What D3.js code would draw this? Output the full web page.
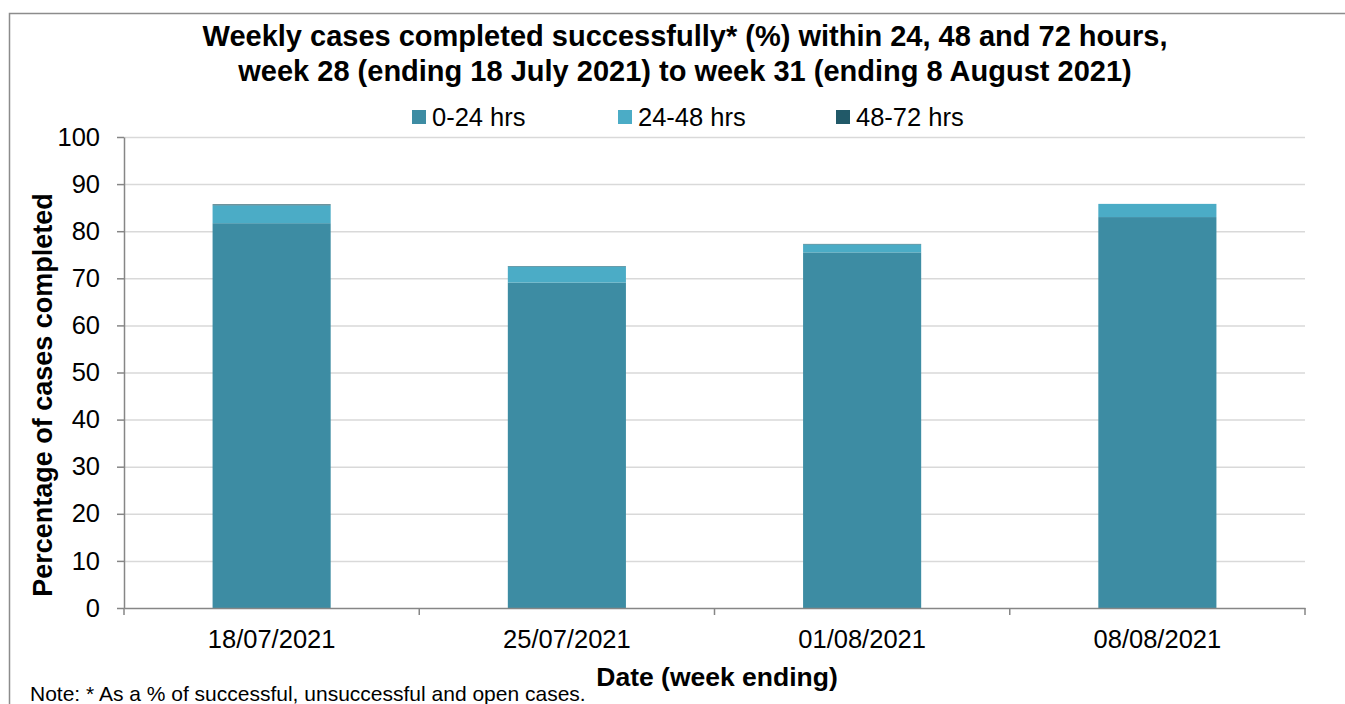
<!DOCTYPE html>
<html>
<head>
<meta charset="utf-8">
<script src="https://d3js.org/d3.v7.min.js"></script>
<style>
  body { margin: 0; background: #fff; }
  svg { font-family: "Liberation Sans", Arial, sans-serif; }
</style>
</head>
<body>
<div id="chart"></div>
<script>
// data
const weeks = ['18/07/2021', '25/07/2021', '01/08/2021', '08/08/2021'];
const seriesNames = ['0-24 hrs', '24-48 hrs', '48-72 hrs'];
const hrs0to24 = [81.7, 69.1, 75.5, 83.0];
const hrs24to48 = [3.8, 3.4, 1.7, 2.8];
const hrs48to72 = [0.2, 0.1, 0.1, 0.0];
const yTicks = [0, 10, 20, 30, 40, 50, 60, 70, 80, 90, 100];
const colors = ['#3d8ca3', '#4bacc6', '#215968'];

const W = 1345, H = 704;
let margin = { top: 137, left: 124, right: 40, bottom: 96 };
let width = W - margin.left - margin.right;
let height = H - margin.top - margin.bottom;

let svg = d3.select('#chart').append('svg')
    .attr('width', W)
    .attr('height', H);

// outer frame
svg.append('path')
    .attr('d', `M9.5,${H}V13.5H${W}`)
    .attr('fill', 'none')
    .attr('stroke', '#8c8c8c')
    .attr('stroke-width', 1.5);

let g = svg.append('g')
    .attr('transform', `translate(${margin.left},${margin.top})`);

const xScale = d3.scaleBand()
    .domain(weeks)
    .range([0, width])
    .paddingInner(0)
    .paddingOuter(0);

const yScale = d3.scaleLinear()
    .domain([0, 100])
    .range([height, 0]);

// gridlines
g.selectAll('.grid')
    .data(yTicks.filter(d => d > 0))
    .enter()
    .append('line')
    .attr('x1', 0)
    .attr('x2', width)
    .attr('y1', d => yScale(d) + 0.5)
    .attr('y2', d => yScale(d) + 0.5)
    .attr('stroke', '#d9d9d9')
    .attr('stroke-width', 1.5);

// stack
const table = weeks.map((w, i) => ({
    week: w,
    '0-24 hrs': hrs0to24[i],
    '24-48 hrs': hrs24to48[i],
    '48-72 hrs': hrs48to72[i]
}));
const stacked = d3.stack().keys(seriesNames)(table);
const barW = xScale.bandwidth() * 0.4;

g.selectAll('.layer')
    .data(stacked)
    .enter()
    .append('g')
    .attr('fill', (d, i) => colors[i])
    .selectAll('rect')
    .data(d => d)
    .enter()
    .append('rect')
    .attr('x', d => xScale(d.data.week) + (xScale.bandwidth() - barW) / 2)
    .attr('width', barW)
    .attr('y', d => yScale(d[1]))
    .attr('height', d => Math.max(0, yScale(d[0]) - yScale(d[1])));

// axes
const yAxis = g.append('g')
    .call(d3.axisLeft(yScale).tickValues(yTicks).tickSize(7).tickSizeOuter(0).tickPadding(17));
const xAxis = g.append('g')
    .attr('transform', `translate(0,${height})`)
    .call(d3.axisBottom(xScale).tickSize(0).tickPadding(25));

[yAxis, xAxis].forEach(a => {
    a.select('.domain').attr('stroke', '#868686').attr('stroke-width', 1.5);
    a.selectAll('.tick line').attr('stroke', '#868686').attr('stroke-width', 1.5);
    a.selectAll('text').attr('font-size', 25.5).attr('fill', '#000')
        .attr('font-family', '"Liberation Sans", Arial, sans-serif');
});
xAxis.selectAll('text').attr('dy', '0.6em');

// x boundary ticks
g.selectAll('.xb')
    .data(d3.range(weeks.length + 1))
    .enter()
    .append('line')
    .attr('x1', i => i * xScale.bandwidth())
    .attr('x2', i => i * xScale.bandwidth())
    .attr('y1', height)
    .attr('y2', height + 7)
    .attr('stroke', '#868686')
    .attr('stroke-width', 1.5);

// title
const title = svg.append('text')
    .attr('text-anchor', 'middle')
    .style('font-size', '29px')
    .style('font-weight', 'bold');
title.append('tspan').attr('x', 685).attr('y', 46)
    .text('Weekly cases completed successfully* (%) within 24, 48 and 72 hours,');
title.append('tspan').attr('x', 685).attr('y', 81)
    .text('week 28 (ending 18 July 2021) to week 31 (ending 8 August 2021)');

// legend
const legendX = [412, 618, 836];
const legend = svg.selectAll('.legend')
    .data(seriesNames)
    .enter()
    .append('g')
    .attr('transform', (d, i) => `translate(${legendX[i]},110)`);
legend.append('rect')
    .attr('width', 14)
    .attr('height', 14)
    .attr('fill', (d, i) => colors[i]);
legend.append('text')
    .attr('x', 20)
    .attr('y', 16)
    .style('font-size', '25.5px')
    .text(d => d);

// axis labels
svg.append('text')
    .attr('transform', 'rotate(-90)')
    .attr('x', -395)
    .attr('y', 52)
    .attr('text-anchor', 'middle')
    .style('font-size', '27px')
    .style('font-weight', 'bold')
    .text('Percentage of cases completed');

svg.append('text')
    .attr('x', 717)
    .attr('y', 686)
    .attr('text-anchor', 'middle')
    .style('font-size', '26.5px')
    .style('font-weight', 'bold')
    .text('Date (week ending)');

svg.append('text')
    .attr('x', 30)
    .attr('y', 701)
    .style('font-size', '21px')
    .text('Note: * As a % of successful, unsuccessful and open cases.');
</script>
</body>
</html>
